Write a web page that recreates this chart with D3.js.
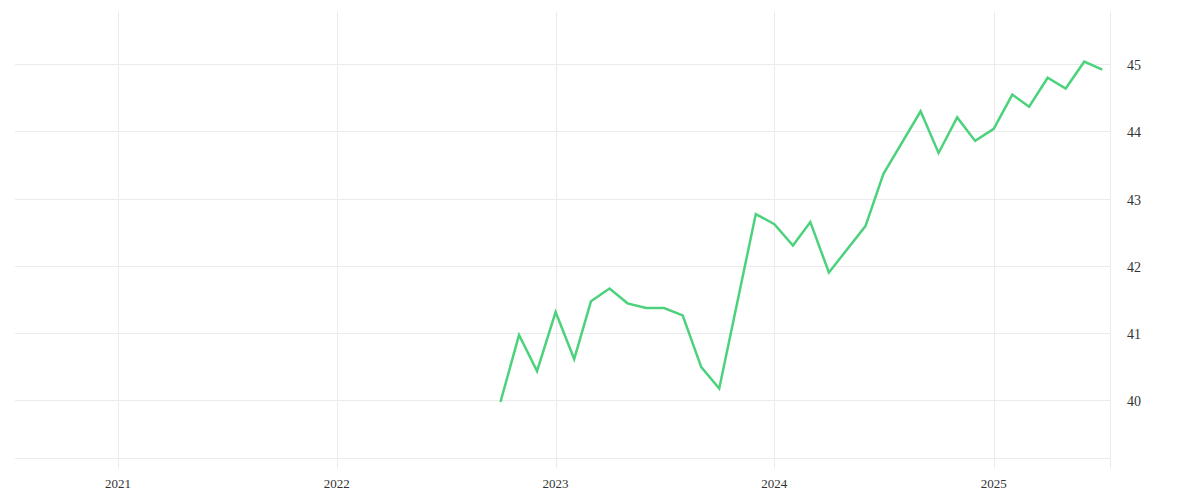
<!DOCTYPE html>
<html>
<head>
<meta charset="utf-8">
<script src="https://cdn.jsdelivr.net/npm/d3@7"></script>
<style>
  html, body { margin: 0; padding: 0; background: #fff; }
  svg { display: block; }
</style>
</head>
<body>
<svg id="chart" width="1200" height="500"></svg>
<script>
// Data (monthly, first of month)
const dates = [
  "2022-10-01","2022-11-01","2022-12-01",
  "2023-01-01","2023-02-01","2023-03-01","2023-04-01","2023-05-01","2023-06-01",
  "2023-07-01","2023-08-01","2023-09-01","2023-10-01","2023-12-01",
  "2024-01-01","2024-02-01","2024-03-01","2024-04-01","2024-06-01","2024-07-01",
  "2024-09-01","2024-10-01","2024-11-01","2024-12-01",
  "2025-01-01","2025-02-01","2025-03-01","2025-04-01","2025-05-01","2025-06-01","2025-07-01"
];
const values = [
  39.97, 40.97, 40.43,
  41.31, 40.61, 41.47, 41.66, 41.44, 41.37,
  41.37, 41.26, 40.49, 40.17, 42.77,
  42.62, 42.30, 42.65, 41.90, 42.59, 43.37,
  44.30, 43.68, 44.21, 43.86,
  44.04, 44.55, 44.37, 44.80, 44.64, 45.04, 44.92
];
const xTickYears = [2021, 2022, 2023, 2024, 2025];
const yTicks = [40, 41, 42, 43, 44, 45];
const xDomain = ["2020-07-13", "2025-07-14"];
const yDomain = [39.136, 45.78];

const parse = d3.timeParse("%Y-%m-%d");
const data = dates.map((d, i) => ({ date: parse(d), value: values[i] }));

const mLeft = 15, mRight = 1110, mTop = 12, mBottom = 458;
const svg = d3.select("#chart");

const x = d3.scaleTime().domain(xDomain.map(parse)).range([mLeft, mRight]);
const y = d3.scaleLinear().domain(yDomain).range([mBottom, mTop]);

const grid = "#ebebeb";
const font = "'Liberation Serif', 'Times New Roman', serif";

// Horizontal gridlines
svg.append("g").selectAll("line").data(yTicks).join("line")
  .attr("x1", mLeft).attr("x2", mRight)
  .attr("y1", d => Math.round(y(d)) + 0.5).attr("y2", d => Math.round(y(d)) + 0.5)
  .attr("stroke", grid).attr("stroke-width", 1);

// Bottom line
svg.append("line")
  .attr("x1", mLeft).attr("x2", mRight)
  .attr("y1", mBottom + 0.5).attr("y2", mBottom + 0.5)
  .attr("stroke", grid).attr("stroke-width", 1);

// Vertical gridlines (years) extending below bottom
const yearDates = xTickYears.map(yr => new Date(yr, 0, 1));
svg.append("g").selectAll("line").data(yearDates).join("line")
  .attr("x1", d => Math.round(x(d)) + 0.5).attr("x2", d => Math.round(x(d)) + 0.5)
  .attr("y1", mTop).attr("y2", mBottom + 10)
  .attr("stroke", grid).attr("stroke-width", 1);

// Right border line
svg.append("line")
  .attr("x1", mRight + 0.5).attr("x2", mRight + 0.5)
  .attr("y1", mTop).attr("y2", mBottom + 10)
  .attr("stroke", grid).attr("stroke-width", 1);

// X labels
svg.append("g").selectAll("text").data(yearDates).join("text")
  .attr("x", d => x(d))
  .attr("y", 488)
  .attr("text-anchor", "middle")
  .attr("font-family", font)
  .attr("font-size", 13)
  .attr("fill", "#333")
  .text(d => d3.timeFormat("%Y")(d));

// Y labels
svg.append("g").selectAll("text").data(yTicks).join("text")
  .attr("x", 1127)
  .attr("y", d => y(d) + 6)
  .attr("text-anchor", "start")
  .attr("font-family", font)
  .attr("font-size", 14)
  .attr("fill", "#333")
  .text(d => d);

// Line
const line = d3.line().x(d => x(d.date)).y(d => y(d.value));
svg.append("path")
  .datum(data)
  .attr("fill", "none")
  .attr("stroke", "#4cd27c")
  .attr("stroke-width", 2.5)
  .attr("stroke-linejoin", "miter")
  .attr("d", line);
</script>
</body>
</html>
